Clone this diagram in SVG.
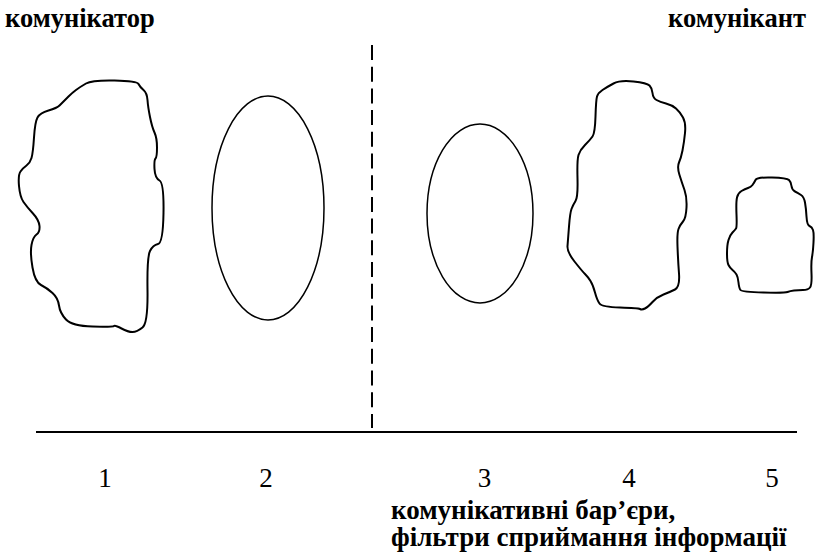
<svg xmlns="http://www.w3.org/2000/svg" width="817" height="557" viewBox="0 0 817 557">
<style>
.lbl{font-family:"Liberation Serif","Times New Roman",serif;font-weight:bold;font-size:26.5px;fill:#000}
.lbl2{font-family:"Liberation Serif","Times New Roman",serif;font-weight:bold;font-size:27px;fill:#000}
.num{font-family:"Liberation Serif","Times New Roman",serif;font-size:27px;fill:#000;text-anchor:middle}
.blob{fill:none;stroke:#000;stroke-width:2;stroke-linejoin:round}
.ell{fill:none;stroke:#000;stroke-width:1.5}
</style>
<rect width="817" height="557" fill="#fff"/>
<g id="connectors">
<line x1="372" y1="45" x2="372" y2="428" stroke="#000" stroke-width="2" stroke-dasharray="15,6.7"/>
<line x1="36" y1="432" x2="797" y2="432" stroke="#000" stroke-width="2"/>
</g>
<g id="node1">
<path class="blob" d="M86,83.5 Q92,80 114.5,80.5 Q137,81 138.5,84 Q140,87 143.5,90 Q147,93 147.5,100 Q148,107 150,117 Q152,127 154.5,132.5 Q157,138 157,147.5 Q157,157 155.5,158.5 Q154,160 154.5,169 Q155,178 159.5,180.5 Q164,183 163.5,213 Q163,243 158,244 Q153,245 150,251 Q147,257 147.5,290 Q148,323 142.5,327.5 Q137,332 132.5,332 Q128,332 121.5,328.5 Q115,325 114,326 Q113,327 92.5,326.5 Q72,326 66,319.5 Q60,313 59,305.5 Q58,298 52.5,293 Q47,288 41,285 Q35,282 32.5,267.5 Q30,253 31.5,245 Q33,237 36.5,234.5 Q40,232 39.5,226 Q39,220 33,213.5 Q27,207 23.5,202 Q20,197 19,186 Q18,175 20.5,171.5 Q23,168 26.5,165.5 Q30,163 31.5,158 Q33,153 34,137.5 Q35,122 37.5,117.5 Q40,113 48.5,110.5 Q57,108 59.5,105.5 Q62,103 63.5,101.5 Q65,100 68.5,96.5 Q72,93 76,90 Q80,87 86,83.5 Z"/>
</g>
<g id="node2">
<ellipse class="ell" cx="268" cy="208" rx="56" ry="112"/>
</g>
<g id="node3">
<ellipse class="ell" cx="480" cy="213.5" rx="53" ry="89.5"/>
</g>
<g id="node4">
<path class="blob" d="M613.5,83.5 Q620,80 633.5,81.5 Q647,83 649.5,85.5 Q652,88 652.5,93 Q653,98 656.5,100 Q660,102 666,103.5 Q672,105 676,108.5 Q680,112 683,117.5 Q686,123 685,133 Q684,143 682.5,150.5 Q681,158 679,162.5 Q677,167 679.5,175 Q682,183 684.5,190 Q687,197 686.5,207.5 Q686,218 683,221.5 Q680,225 678.5,229 Q677,233 677.5,246.5 Q678,260 679,273.5 Q680,287 675,289.5 Q670,292 663.5,294.5 Q657,297 652.5,302 Q648,307 645,308.5 Q642,310 640,309 Q638,308 620,307.5 Q602,307 599.5,303.5 Q597,300 595,292.5 Q593,285 590.5,281 Q588,277 585,274 Q582,271 574.5,261.5 Q567,252 567.5,246 Q568,240 569,226.5 Q570,213 571.5,209 Q573,205 575.5,201 Q578,197 577.5,178.5 Q577,160 578.5,155 Q580,150 585,145 Q590,140 592.5,136.5 Q595,133 595.5,116.5 Q596,100 597,96.5 Q598,93 602.5,90 Q607,87 613.5,83.5 Z"/>
</g>
<g id="node5">
<path class="blob" d="M755.5,180 Q757,177 772,177.5 Q787,178 789,180 Q791,182 791.5,186 Q792,190 795,191.5 Q798,193 801,195 Q804,197 805,202.5 Q806,208 806.5,216.5 Q807,225 809.5,226 Q812,227 813,230 Q814,233 813.5,242.5 Q813,252 812,257 Q811,262 811.5,273.5 Q812,285 810,287.5 Q808,290 803,290 Q798,290 794,290.5 Q790,291 787.5,292 Q785,293 763.5,292.5 Q742,292 740.5,290 Q739,288 738.5,282.5 Q738,277 736.5,274.5 Q735,272 732.5,270 Q730,268 728.5,265 Q727,262 727,253.5 Q727,245 728.5,240 Q730,235 732.5,232.5 Q735,230 736,228.5 Q737,227 736.5,214.5 Q736,202 737,197.5 Q738,193 741.5,191 Q745,189 748,188 Q751,187 752.5,185 Q754,183 755.5,180 Z"/>
</g>
<g id="labels">
<text class="lbl" x="5" y="27">комунікатор</text>
<text class="lbl" x="806" y="27" text-anchor="end">комунікант</text>
<text class="num" x="105" y="487">1</text>
<text class="num" x="266" y="487">2</text>
<text class="num" x="484.5" y="487">3</text>
<text class="num" x="629" y="487">4</text>
<text class="num" x="772" y="487">5</text>
<text class="lbl2" x="391" y="519">комунікативні бар’єри,</text>
<text class="lbl2" x="391" y="546">фільтри сприймання інформації</text>
</g>
</svg>
